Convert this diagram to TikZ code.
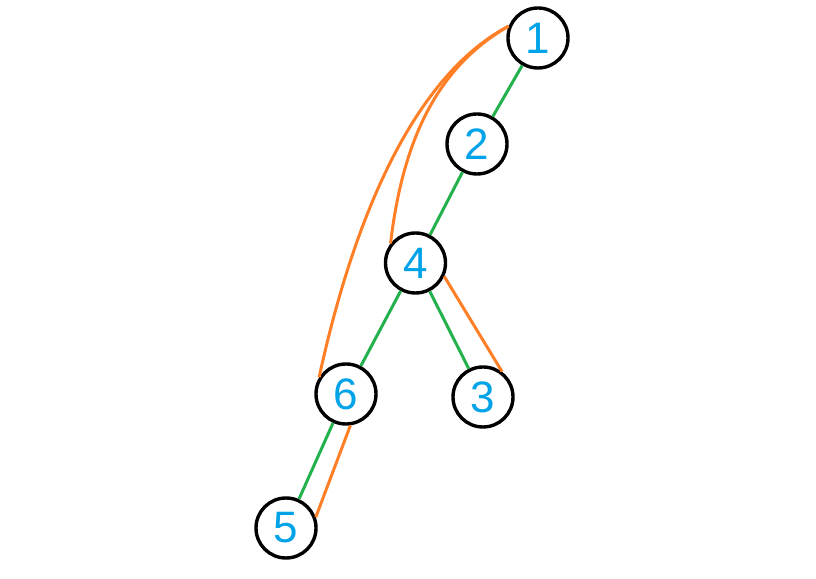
\documentclass[tikz,border=0pt]{standalone}
\usepackage{fontspec}
\setmainfont{Liberation Sans}
\definecolor{nblue}{RGB}{0,162,232}
\definecolor{egreen}{RGB}{34,177,76}
\definecolor{eorange}{RGB}{255,127,39}
\begin{document}
\begin{tikzpicture}[x=1pt,y=1pt,
  vert/.style={circle,draw=black,line width=3.4pt,fill=white,minimum size=60pt,inner sep=0pt,text=nblue,font=\fontsize{44}{44}\selectfont},
  gedge/.style={draw=egreen,line width=3pt},
  oedge/.style={draw=eorange,line width=3pt}]
\useasboundingbox (0,0) rectangle (816,578);
\node[vert] (n1) at (538,540) {1};
\node[vert] (n2) at (477,434) {2};
\node[vert] (n4) at (415.5,315) {4};
\node[vert] (n6) at (346,184) {6};
\node[vert] (n3) at (483,181) {3};
\node[vert] (n5) at (286,50) {5};
\path[gedge] (n1) -- (n2);
\path[gedge] (n2) -- (n4);
\path[gedge] (n4) -- (n6);
\path[gedge] (n4) -- (n3);
\path[gedge] (n6) -- (n5);
\path[oedge] (n4.-25) -- (n3.53);
\path[oedge] (n6.-82) -- (n5.20);
\path[oedge] (n1.158) .. controls (425,508) and (360,388) .. (n6.148);
\path[oedge] (n1.158) .. controls (450,518) and (405,458) .. (n4.142);
\end{tikzpicture}
\end{document}
